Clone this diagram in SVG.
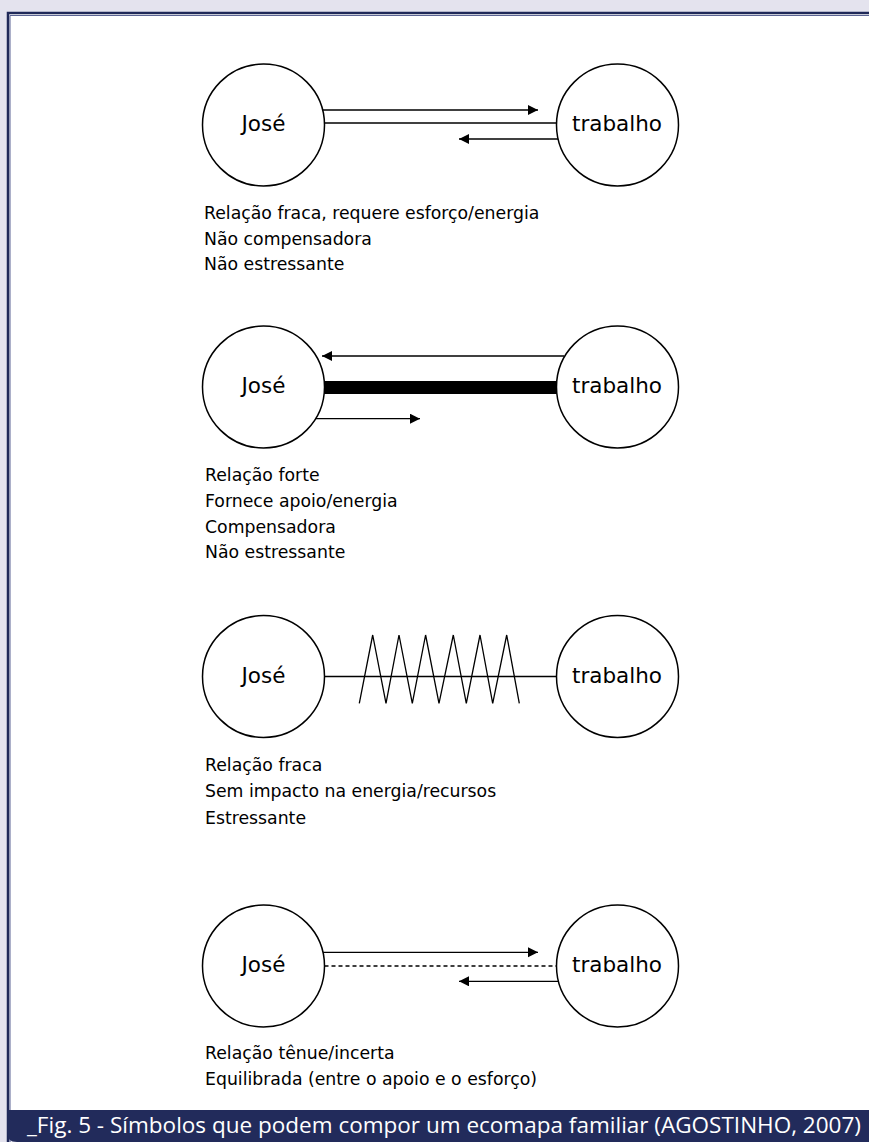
<svg xmlns="http://www.w3.org/2000/svg" width="869" height="1142" viewBox="0 0 869 1142">
<style>
.node{fill:#fff;stroke:#000;stroke-width:1.5}
.lbl{font-family:"DejaVu Sans",Verdana,sans-serif;font-size:21.5px;fill:#000;text-anchor:middle}
.txt{font-family:"DejaVu Sans",Verdana,sans-serif;font-size:17.3px;fill:#000}
.ln{stroke:#000;stroke-width:1.3;fill:none}
.arr{stroke:#000;stroke-width:1.3;fill:none;marker-end:url(#ah)}
.cap{font-family:"Open Sans",sans-serif;font-size:21.5px;fill:#fff}
</style>
<defs>
<marker id="ah" markerUnits="userSpaceOnUse" markerWidth="11" markerHeight="11" refX="10" refY="5" orient="auto">
<path d="M0,0 L10,5 L0,10 z" fill="#000"/>
</marker>
</defs>
<rect x="0" y="0" width="869" height="1142" fill="#e4e3ee"/>
<rect x="8" y="13" width="861" height="1100" fill="#fff"/>
<path d="M8,1142 V13 H869" fill="none" stroke="#1f2858" stroke-width="2.5"/>
<path d="M10,1142 V15.5 H869" fill="none" stroke="#5b6393" stroke-width="1"/>
<path d="M7,1110 H869 V1142 H17 Q7,1142 7,1132 Z" fill="#222b5b"/>
<text class="cap" x="27" y="1133" textLength="834" lengthAdjust="spacingAndGlyphs">_Fig. 5 - Símbolos que podem compor um ecomapa familiar (AGOSTINHO, 2007)</text>

<g id="connectors">
<line class="arr" x1="323" y1="110" x2="538" y2="110"/>
<line class="ln" x1="324.5" y1="123" x2="556.5" y2="123"/>
<line class="arr" x1="558" y1="139" x2="459" y2="139"/>

<line class="arr" x1="564" y1="356" x2="322" y2="356"/>
<line x1="324" y1="387.5" x2="557" y2="387.5" stroke="#000" stroke-width="13"/>
<line class="arr" x1="316" y1="418.7" x2="420" y2="418.7"/>

<line class="ln" x1="324.5" y1="676.5" x2="556.5" y2="676.5"/>
<polyline class="ln" points="359.3,703.3 372.7,635 386,703.3 399,635 412.3,703.3 425.6,635 439,703.3 453.3,635 466.3,703.3 480,635 492.7,703.3 506.7,635 519.3,703.3"/>

<line class="arr" x1="323" y1="952.3" x2="538" y2="952.3"/>
<line class="ln" x1="324.5" y1="966" x2="556.5" y2="966" stroke-dasharray="4,3"/>
<line class="arr" x1="558" y1="981.3" x2="459" y2="981.3"/>
</g>

<g id="jose1"><circle class="node" cx="263.5" cy="125" r="61"/><text class="lbl" x="263.5" y="131">José</text></g>
<g id="trabalho1"><circle class="node" cx="617.5" cy="125" r="61"/><text class="lbl" x="617" y="131">trabalho</text></g>
<g id="legend1">
<text class="txt" x="204" y="219">Relação fraca, requere esforço/energia</text>
<text class="txt" x="204" y="245">Não compensadora</text>
<text class="txt" x="204" y="270">Não estressante</text>
</g>

<g id="jose2"><circle class="node" cx="263.5" cy="387" r="61"/><text class="lbl" x="263.5" y="393">José</text></g>
<g id="trabalho2"><circle class="node" cx="617.5" cy="387" r="61"/><text class="lbl" x="617" y="393">trabalho</text></g>
<g id="legend2">
<text class="txt" x="205" y="481">Relação forte</text>
<text class="txt" x="205" y="507">Fornece apoio/energia</text>
<text class="txt" x="205" y="533">Compensadora</text>
<text class="txt" x="205" y="558">Não estressante</text>
</g>

<g id="jose3"><circle class="node" cx="263.5" cy="676.5" r="61"/><text class="lbl" x="263.5" y="682.5">José</text></g>
<g id="trabalho3"><circle class="node" cx="617.5" cy="676.5" r="61"/><text class="lbl" x="617" y="682.5">trabalho</text></g>
<g id="legend3">
<text class="txt" x="205" y="771">Relação fraca</text>
<text class="txt" x="205" y="797">Sem impacto na energia/recursos</text>
<text class="txt" x="205" y="824">Estressante</text>
</g>

<g id="jose4"><circle class="node" cx="263.5" cy="966" r="61"/><text class="lbl" x="263.5" y="972">José</text></g>
<g id="trabalho4"><circle class="node" cx="617.5" cy="966" r="61"/><text class="lbl" x="617" y="972">trabalho</text></g>
<g id="legend4">
<text class="txt" x="205" y="1059">Relação tênue/incerta</text>
<text class="txt" x="205" y="1085">Equilibrada (entre o apoio e o esforço)</text>
</g>
</svg>
